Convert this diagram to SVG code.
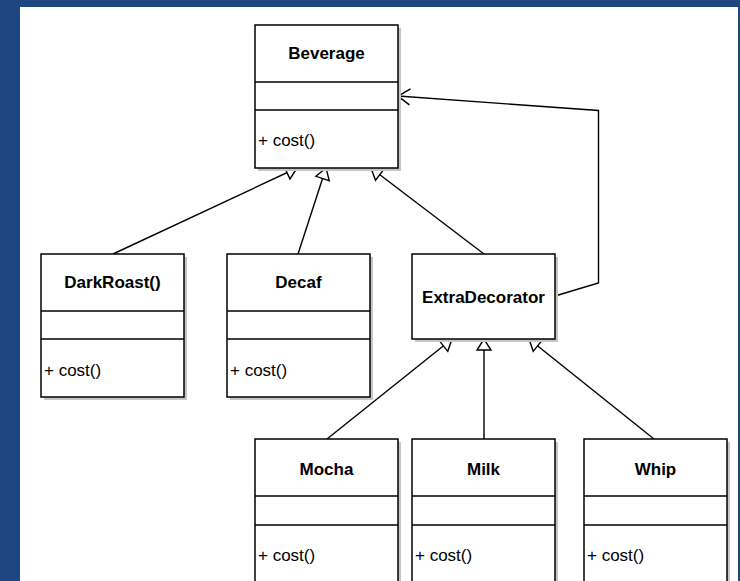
<svg xmlns="http://www.w3.org/2000/svg" width="740" height="581" viewBox="0 0 740 581">
<defs>
<style>
.shadow{fill:#c6c6c6;stroke:none}
.box{fill:#ffffff;stroke:#000;stroke-width:1.5}
.div{stroke:#000;stroke-width:1.5}
.title{font-family:"Liberation Sans",Arial,sans-serif;font-size:17px;font-weight:bold;fill:#000;text-anchor:middle}
.member{font-family:"Liberation Sans",Arial,sans-serif;font-size:17px;fill:#000}
.edge{fill:none;stroke:#000;stroke-width:1.4}
</style>
<marker id="tri" markerUnits="userSpaceOnUse" viewBox="-13 -9 15 18" refX="0" refY="0" markerWidth="15" markerHeight="18" orient="auto">
<path d="M0,0 L-11,-7 L-11,7 Z" fill="#fff" stroke="#000" stroke-width="1.4"/>
</marker>
<marker id="open" markerUnits="userSpaceOnUse" viewBox="-14 -10 16 20" refX="0" refY="0" markerWidth="16" markerHeight="20" orient="auto">
<path d="M-12,-8 L0,0 L-12,8" fill="none" stroke="#000" stroke-width="1.5"/>
</marker>
</defs>
<rect x="0" y="0" width="740" height="581" fill="#ffffff"/>
<rect x="0" y="0" width="740" height="7" fill="#1e4680"/>
<rect x="0" y="0" width="20" height="581" fill="#1e4680"/>
<rect x="738" y="0" width="2" height="581" fill="#1e4680"/>

<g id="connectors">
<path class="edge" d="M113,254 L297,168" marker-end="url(#tri)"/>
<path class="edge" d="M298,254 L326,168" marker-end="url(#tri)"/>
<path class="edge" d="M484,254 L371,168" marker-end="url(#tri)"/>
<path class="edge" d="M327,439 L452,339" marker-end="url(#tri)"/>
<path class="edge" d="M484,439 L484,339" marker-end="url(#tri)"/>
<path class="edge" d="M654,439 L529,339" marker-end="url(#tri)"/>
<path class="edge" d="M555,296 L598.5,283 L598.5,110.5 L398,96" marker-end="url(#open)"/>
</g>

<g id="beverage">
<rect class="shadow" x="258" y="28" width="143" height="143"/>
<rect class="box" x="255" y="25" width="143" height="143"/>
<line class="div" x1="255" y1="82" x2="398" y2="82"/>
<line class="div" x1="255" y1="110" x2="398" y2="110"/>
<text class="title" x="326.5" y="59">Beverage</text>
<text class="member" x="258" y="146">+ cost()</text>
</g>

<g id="darkroast">
<rect class="shadow" x="44" y="257" width="143" height="143"/>
<rect class="box" x="41" y="254" width="143" height="143"/>
<line class="div" x1="41" y1="311" x2="184" y2="311"/>
<line class="div" x1="41" y1="339" x2="184" y2="339"/>
<text class="title" x="112.5" y="288">DarkRoast()</text>
<text class="member" x="44" y="375.5">+ cost()</text>
</g>

<g id="decaf">
<rect class="shadow" x="230" y="257" width="143" height="143"/>
<rect class="box" x="227" y="254" width="143" height="143"/>
<line class="div" x1="227" y1="311" x2="370" y2="311"/>
<line class="div" x1="227" y1="339" x2="370" y2="339"/>
<text class="title" x="298.5" y="288">Decaf</text>
<text class="member" x="230" y="375.5">+ cost()</text>
</g>

<g id="extradecorator">
<rect class="shadow" x="415" y="257" width="143" height="85"/>
<rect class="box" x="412" y="254" width="143" height="85"/>
<text class="title" x="483.5" y="303">ExtraDecorator</text>
</g>

<g id="mocha">
<rect class="shadow" x="258" y="442" width="143" height="160"/>
<rect class="box" x="255" y="439" width="143" height="160"/>
<line class="div" x1="255" y1="496" x2="398" y2="496"/>
<line class="div" x1="255" y1="525" x2="398" y2="525"/>
<text class="title" x="326.5" y="475">Mocha</text>
<text class="member" x="258" y="560.5">+ cost()</text>
</g>

<g id="milk">
<rect class="shadow" x="415" y="442" width="143" height="160"/>
<rect class="box" x="412" y="439" width="143" height="160"/>
<line class="div" x1="412" y1="496" x2="555" y2="496"/>
<line class="div" x1="412" y1="525" x2="555" y2="525"/>
<text class="title" x="483.5" y="475">Milk</text>
<text class="member" x="415" y="560.5">+ cost()</text>
</g>

<g id="whip">
<rect class="shadow" x="587" y="442" width="143" height="160"/>
<rect class="box" x="584" y="439" width="143" height="160"/>
<line class="div" x1="584" y1="496" x2="727" y2="496"/>
<line class="div" x1="584" y1="525" x2="727" y2="525"/>
<text class="title" x="655.5" y="475">Whip</text>
<text class="member" x="587" y="560.5">+ cost()</text>
</g>
</svg>
